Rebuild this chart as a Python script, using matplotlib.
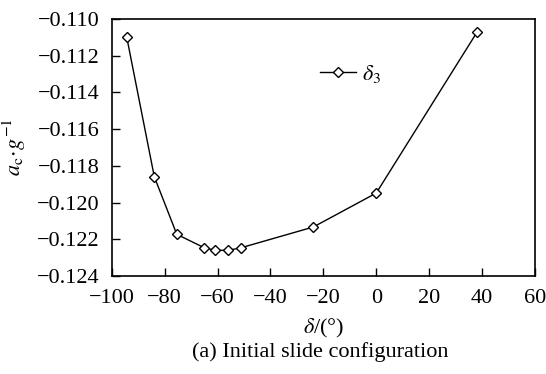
import matplotlib
matplotlib.use("Agg")
import matplotlib.pyplot as plt

plt.rcParams['font.family'] = ['Liberation Serif', 'DejaVu Serif']
plt.rcParams['mathtext.fontset'] = 'stix'

# data
delta = [-94.3, -83.9, -75.4, -65.0, -60.8, -55.9, -51.1, -23.8, 0.0, 38.0]
accel = [-0.1110, -0.11859, -0.12173, -0.12246, -0.1226, -0.1226, -0.12246, -0.12133, -0.11948, -0.11073]
xticks = [-100, -80, -60, -40, -20, 0, 20, 40, 60]
yticks = [-0.124, -0.122, -0.120, -0.118, -0.116, -0.114, -0.112, -0.110]

fig = plt.figure(figsize=(5.46, 3.74), dpi=100)
ax = fig.add_axes([0.2046, 0.262, 0.7753, 0.687])

ax.plot(delta, accel, color='black', lw=1.0, marker='D', ms=5,
        mfc='white', mec='black', mew=1.0, label=r'$\delta_3$')

ax.set_xlim(-100, 60)
ax.set_ylim(-0.124, -0.110)
ax.set_xticks(xticks)
ax.set_yticks(yticks)
ax.set_xticklabels([str(t).replace('-', '\u2212') for t in xticks])
ax.set_yticklabels([('%.3f' % t).replace('-', '\u2212') for t in yticks])
ax.tick_params(direction='in', length=6, width=1, labelsize=16,
               top=False, right=False)
ax.tick_params(axis='y', pad=9)
ax.tick_params(axis='x', pad=9)
for s in ax.spines.values():
    s.set_linewidth(1.2)

ax.set_ylabel(r'$a_{\mathrm{c}}\!\cdot\! g^{-1}$', fontsize=16, labelpad=6)
ax.set_xlabel(r'$\delta$/(°)', fontsize=16, labelpad=7)
fig.text(0.587, 0.045, '(a) Initial slide configuration', ha='center', fontsize=16)

ax.legend(loc='center left', bbox_to_anchor=(0.445, 0.787), frameon=False,
          fontsize=16, handlelength=1.6, handletextpad=0.3)

fig.savefig('out.png', dpi=100)
